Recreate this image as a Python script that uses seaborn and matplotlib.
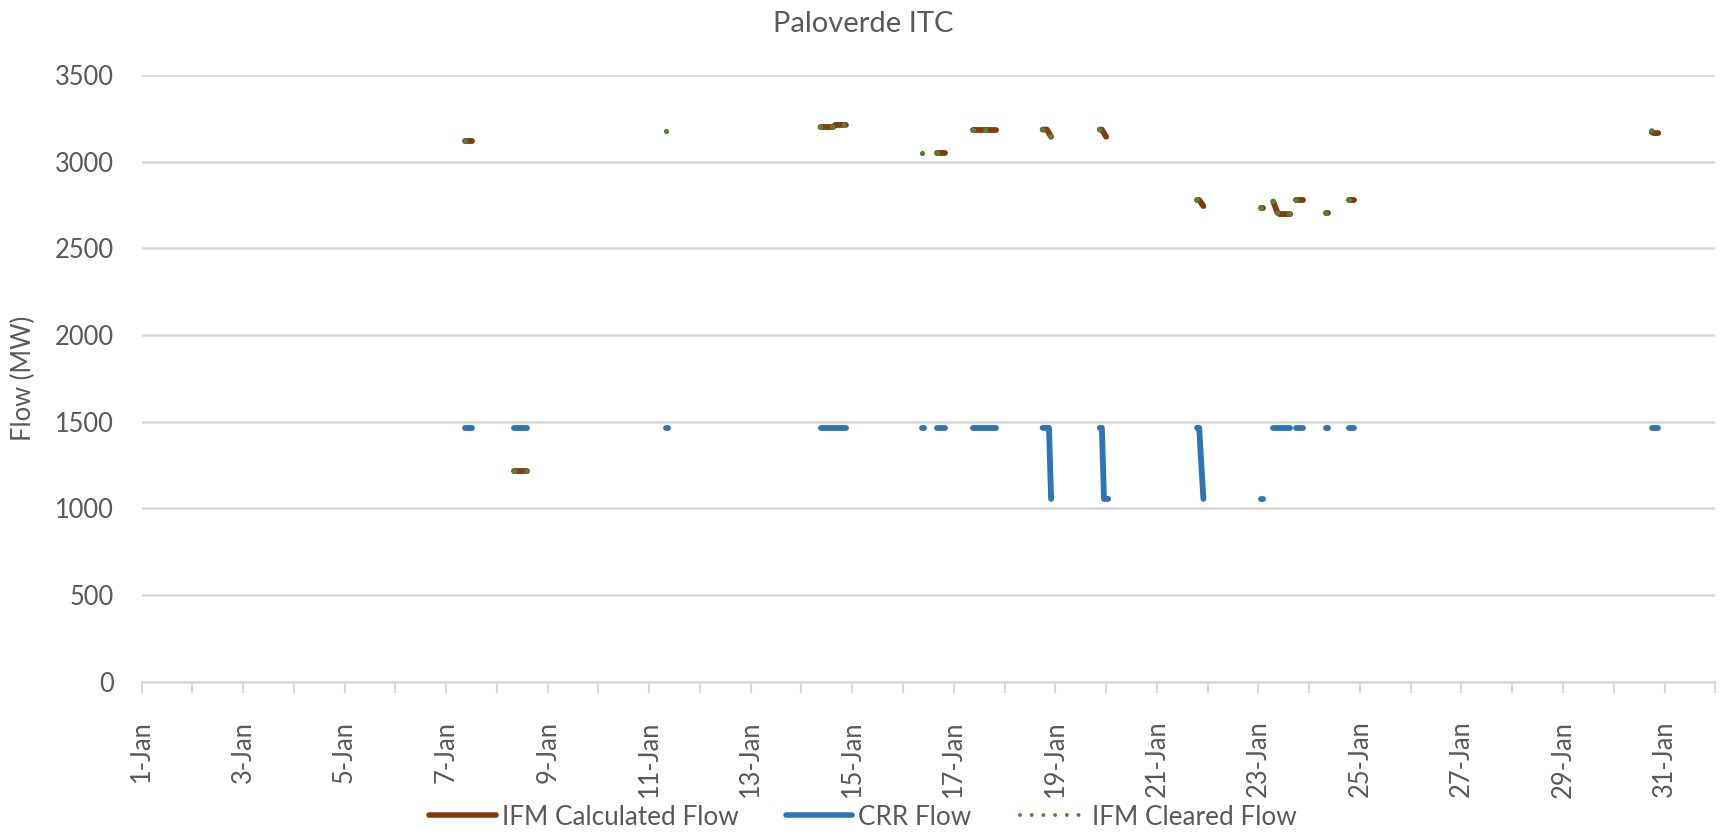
import pandas as pd
import matplotlib
matplotlib.use("Agg")
import matplotlib.pyplot as plt
from matplotlib.lines import Line2D
import seaborn as sns

# break-points of each visible run; None starts a new run
calc_time = ["01-07 09:00", "01-07 12:00", None,
             "01-08 08:00", "01-08 14:00", None,
             "01-14 09:00", "01-14 15:00", "01-14 16:00", "01-14 21:00", None,
             "01-16 16:00", "01-16 20:00", None,
             "01-17 09:00", "01-17 20:00", None,
             "01-18 18:00", "01-18 20:00", "01-18 22:00", None,
             "01-19 21:00", "01-19 22:00", "01-20 00:00", None,
             "01-21 19:00", "01-21 20:00", "01-21 22:00", None,
             "01-23 01:00", "01-23 02:00", None,
             "01-23 07:00", "01-23 09:00", "01-23 10:00", "01-23 15:00", None,
             "01-23 18:00", "01-23 21:00", None,
             "01-24 08:00", "01-24 09:00", None,
             "01-24 19:00", "01-24 21:00", None,
             "01-30 18:00", "01-30 19:00", "01-30 21:00"]
calc_mw = [3120, 3120, None,
           1215, 1215, None,
           3200, 3200, 3212, 3212, None,
           3048, 3048, None,
           3185, 3185, None,
           3185, 3185, 3144, None,
           3185, 3185, 3144, None,
           2779, 2779, 2744, None,
           2731, 2731, None,
           2770, 2706, 2698, 2698, None,
           2780, 2780, None,
           2706, 2706, None,
           2780, 2780, None,
           3170, 3165, 3165]

crr_time = ["01-07 09:00", "01-07 12:00", None,
            "01-08 08:00", "01-08 14:00", None,
            "01-11 08:00", "01-11 09:00", None,
            "01-14 09:00", "01-14 21:00", None,
            "01-16 09:00", "01-16 10:00", None,
            "01-16 16:00", "01-16 20:00", None,
            "01-17 09:00", "01-17 20:00", None,
            "01-18 18:00", "01-18 21:00", "01-18 22:00", None,
            "01-19 21:00", "01-19 22:00", "01-19 23:00", "01-20 01:00", None,
            "01-21 19:00", "01-21 20:00", "01-21 22:00", None,
            "01-23 01:00", "01-23 02:00", None,
            "01-23 07:00", "01-23 15:00", None,
            "01-23 18:00", "01-23 21:00", None,
            "01-24 08:00", "01-24 09:00", None,
            "01-24 19:00", "01-24 21:00", None,
            "01-30 18:00", "01-30 21:00"]
crr_mw = [1465, 1465, None,
          1465, 1465, None,
          1465, 1465, None,
          1465, 1465, None,
          1465, 1465, None,
          1465, 1465, None,
          1465, 1465, None,
          1465, 1465, 1055, None,
          1465, 1465, 1055, 1055, None,
          1465, 1465, 1055, None,
          1055, 1055, None,
          1465, 1465, None,
          1465, 1465, None,
          1465, 1465, None,
          1465, 1465, None,
          1465, 1465]

cleared_time = ["01-07 09:00", "01-07 12:00", None,
                "01-08 08:00", "01-08 14:00", None,
                "01-11 08:00", "01-11 09:00", None,
                "01-14 09:00", "01-14 15:00", "01-14 16:00", "01-14 21:00", None,
                "01-16 09:00", "01-16 10:00", None,
                "01-16 16:00", "01-16 20:00", None,
                "01-17 09:00", "01-17 20:00", None,
                "01-18 18:00", "01-18 20:00", "01-18 22:00", None,
                "01-19 21:00", "01-19 22:00", "01-20 00:00", None,
                "01-21 19:00", "01-21 20:00", "01-21 22:00", None,
                "01-23 01:00", "01-23 02:00", None,
                "01-23 07:00", "01-23 09:00", "01-23 10:00", "01-23 15:00", None,
                "01-23 18:00", "01-23 21:00", None,
                "01-24 08:00", "01-24 09:00", None,
                "01-24 19:00", "01-24 21:00", None,
                "01-30 18:00", "01-30 19:00", "01-30 21:00"]
cleared_mw = [3120, 3120, None,
              1215, 1215, None,
              3178, 3178, None,
              3200, 3200, 3212, 3212, None,
              3048, 3048, None,
              3048, 3048, None,
              3185, 3185, None,
              3185, 3185, 3144, None,
              3185, 3185, 3144, None,
              2779, 2779, 2744, None,
              2731, 2731, None,
              2770, 2706, 2698, 2698, None,
              2780, 2780, None,
              2706, 2706, None,
              2780, 2780, None,
              3178, 3165, 3165]

YEAR = "2021"
BROWN = "#843C0C"
BLUE = "#2E75B6"
GREEN = "#548235"
TEXT = "#595959"
GRID = "#D9D9D9"


def to_frame(times, values):
    rows = []
    seg = 0
    for t, v in zip(times, values):
        if t is None:
            seg += 1
            continue
        rows.append({"time": pd.Timestamp(f"{YEAR}-{t}"), "mw": v, "seg": seg})
    return pd.DataFrame(rows)


calc_df = to_frame(calc_time, calc_mw)
crr_df = to_frame(crr_time, crr_mw)
cleared_df = to_frame(cleared_time, cleared_mw)

sns.set_theme(style="white")
plt.rcParams["font.family"] = ["Lato", "DejaVu Sans"]

fig, ax = plt.subplots(figsize=(8.63, 4.18), dpi=200)
fig.subplots_adjust(left=0.082, right=0.9938, top=0.9103, bottom=0.1844)

lw = 2.1
sns.lineplot(data=calc_df, x="time", y="mw", units="seg", estimator=None, sort=False,
             color=BROWN, lw=lw, solid_capstyle="round", legend=False, ax=ax)
sns.lineplot(data=crr_df, x="time", y="mw", units="seg", estimator=None, sort=False,
             color=BLUE, lw=lw, solid_capstyle="round", legend=False, ax=ax)
sns.lineplot(data=cleared_df, x="time", y="mw", units="seg", estimator=None, sort=False,
             color=GREEN, lw=1.9, linestyle=(0, (0.01, 2.3)), dash_capstyle="round",
             legend=False, ax=ax)

# axes
ax.set_xlim(pd.Timestamp(f"{YEAR}-01-01"), pd.Timestamp(f"{YEAR}-02-01"))
ax.set_ylim(0, 3500)
ax.set_yticks(range(0, 3501, 500))
major = pd.date_range(f"{YEAR}-01-01", f"{YEAR}-01-31", freq="2D")
minor = pd.date_range(f"{YEAR}-01-01", f"{YEAR}-02-01", freq="D")
ax.set_xticks(major)
ax.set_xticklabels([f"{d.day}-{d:%b}" for d in major])
ax.set_xticks(minor, minor=True)

ax.grid(axis="y", color=GRID, lw=0.9)
ax.grid(axis="x", visible=False)
ax.set_axisbelow(True)
for side in ["top", "right", "left"]:
    ax.spines[side].set_visible(False)
ax.spines["bottom"].set_color(GRID)
ax.spines["bottom"].set_linewidth(0.9)

ax.tick_params(axis="x", which="both", bottom=True, length=4, width=0.75,
               color=GRID, direction="out")
ax.tick_params(axis="x", which="major", labelrotation=90, pad=10,
               labelsize=9.2, labelcolor=TEXT)
ax.tick_params(axis="y", length=0, pad=9.9, labelsize=9.2, labelcolor=TEXT)

ax.set_xlabel("")
ax.set_ylabel("Flow (MW)", fontsize=9.2, color=TEXT)
ax.yaxis.set_label_coords(-0.067, 0.5)

fig.text(0.5, 0.962, "Paloverde ITC", ha="center", va="baseline",
         fontsize=10.5, color=TEXT)

handles = [
    Line2D([], [], color=BROWN, lw=2.0),
    Line2D([], [], color=BLUE, lw=2.0),
    Line2D([], [], color=GREEN, lw=1.4, linestyle=(0, (0.01, 3.0)),
           dash_capstyle="round"),
]
fig.legend(handles, ["IFM Calculated Flow", "CRR Flow", "IFM Cleared Flow"],
           loc="center", bbox_to_anchor=(0.5, 0.0227), ncol=3, frameon=False,
           fontsize=9.4, labelcolor=TEXT, handlelength=2.53,
           handletextpad=0.23, columnspacing=1.84)

fig.savefig("out.png", dpi=200)
